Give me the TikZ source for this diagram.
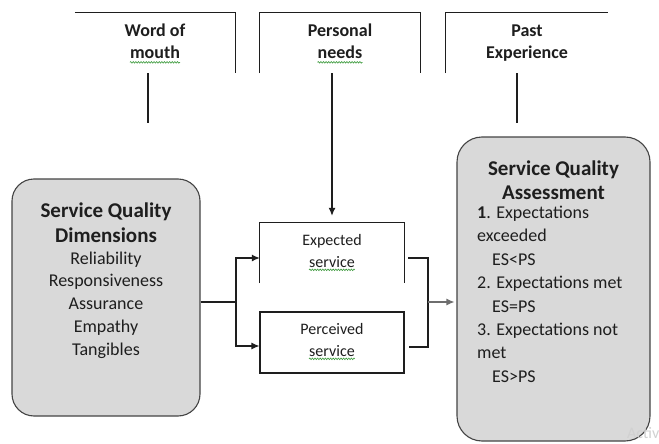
\documentclass[tikz,border=0pt]{standalone}
\usepackage{fontspec}
\setmainfont{Carlito}
\usetikzlibrary{arrows.meta,decorations.pathmorphing}
\definecolor{boxfill}{HTML}{D9D9D9}
\definecolor{boxedge}{HTML}{444444}
\definecolor{ink}{HTML}{1E1E1E}
\definecolor{soft}{HTML}{6E6E6E}
\definecolor{spell}{HTML}{3C9A3C}
\begin{document}
\begin{tikzpicture}[x=1pt,y=-1pt,
  every node/.style={inner sep=0pt, text=ink},
  line/.style={draw=ink, line width=1.1pt},
  flow/.style={line, -{Latex[length=8pt,width=7pt]}},
  panel/.style={draw=boxedge, fill=boxfill, line width=1.1pt, rounded corners=22pt},
  frame/.style={minimum width=160pt, minimum height=60pt},
  svcbox/.style={minimum width=144pt},
  head/.style={font=\fontsize{21}{25}\selectfont\bfseries, anchor=base},
  body/.style={font=\fontsize{18}{22}\selectfont, anchor=base},
  bodyl/.style={font=\fontsize{18}{22}\selectfont, anchor=base west},
  toplabel/.style={font=\fontsize{18}{22}\selectfont\bfseries, anchor=base},
  svc/.style={font=\fontsize{16}{20}\selectfont, anchor=base},
  squiggle/.style={draw=spell, line width=0.6pt, decorate,
    decoration={snake, amplitude=0.8pt, segment length=2.6pt}},
]
\useasboundingbox (0,0) rectangle (659,444);
\fill[white] (0,0) rectangle (659,444);

% ---- influences along the top (open frames) ----
\node[frame] (wom) at (155,43) {};
\node[frame] (pn)  at (340,43) {};
\node[frame, minimum width=162pt] (pe) at (527,43) {};
\draw[line] (wom.north west) -- (wom.north east) -- (wom.south east);
\draw[line] (pn.south west) -- (pn.north west) -- (pn.north east) -- (pn.south east);
\draw[line] (pe.south west) -- (pe.north west) -- (pe.north east);

\node[toplabel] (womA) at (155,37) {Word of};
\node[toplabel] (womB) at (155,59) {mouth};
\node[toplabel] (pnA) at (340,37) {Personal};
\node[toplabel] (pnB) at (340,59) {needs};
\node[toplabel] (peA) at (527,37) {Past};
\node[toplabel] (peB) at (527,59) {Experience};
\draw[squiggle] ([yshift=-3pt]womB.south west) -- ([yshift=-3pt]womB.south east);
\draw[squiggle] ([yshift=-3pt]pnB.south west) -- ([yshift=-3pt]pnB.south east);

% ---- the two grey panels ----
\node[panel, minimum width=188pt, minimum height=237pt] (dims) at (106,297.5) {};
\node[panel, rounded corners=25pt, minimum width=193pt, minimum height=304pt] (assess) at (553.5,289) {};

\node[head] (d1) at (106,217) {Service Quality};
\node[head] (d2) at (106,242) {Dimensions};
\node[body] (d3) at (106,264) {Reliability};
\node[body] (d4) at (106,286.75) {Responsiveness};
\node[body] (d5) at (106,309.5) {Assurance};
\node[body] (d6) at (106,332.25) {Empathy};
\node[body] (d7) at (106,355) {Tangibles};

\node[head] (a1) at (553.5,175) {Service Quality};
\node[head] (a2) at (553.5,199) {Assessment};
\node[bodyl] (a3) at (477,218.5) {\textbf{1}. Expectations};
\node[bodyl] (a4) at (477,241.9) {exceeded};
\node[bodyl] (a5) at (492,265.3) {ES<PS};
\node[bodyl] (a6) at (477,288.7) {2. Expectations met};
\node[bodyl] (a7) at (492,312.1) {ES=PS};
\node[bodyl] (a8) at (477,335.5) {3. Expectations not};
\node[bodyl] (a9) at (477,358.9) {met};
\node[bodyl] (a10) at (492,382.3) {ES>PS};

% ---- expected / perceived service ----
\node[svcbox, minimum height=60pt] (exp) at (332,253) {};
\draw[line] (exp.south west) -- (exp.north west) -- (exp.north east) -- (exp.south east);
\node[svcbox, minimum height=61pt, draw=ink, line width=1.1pt] (per) at (332,342.5) {};

\node[svc] (e1) at (332,245) {Expected};
\node[svc] (e2) at (332,267) {service};
\node[svc] (p1) at (332,334) {Perceived};
\node[svc] (p2) at (332,356) {service};
\draw[squiggle] ([yshift=-2.5pt]e2.south west) -- ([yshift=-2.5pt]e2.south east);
\draw[squiggle] ([yshift=-2.5pt]p2.south west) -- ([yshift=-2.5pt]p2.south east);

% ---- connectors ----
\coordinate (womfoot) at (148,123);
\coordinate (pefoot) at (517,123);
\draw[line] (wom.south -| womfoot) -- (womfoot);
\draw[line] (pe.south -| pefoot) -- (pefoot);
\draw[flow, shorten >=7pt] (pn.south -| exp.north) -- (exp.north);

\coordinate (split) at (236,302);
\draw[line] (dims.east |- split) -- (split);
\draw[flow] (split) |- ([yshift=-5pt]exp.west);
\draw[flow] (split) |- ([yshift=-3.5pt]per.west);

\coordinate (merge) at (428,302);
\draw[line] ([xshift=4pt,yshift=-5pt]exp.east) -| (merge);
\draw[line] (merge) |- ([xshift=4pt,yshift=-4.5pt]per.east);
\draw[flow, draw=soft] (merge) -- ([xshift=-2pt]assess.west |- merge);

% ---- faint text at the lower right corner ----
\node[font=\fontsize{16}{16}\selectfont, text=black!18, anchor=base west] (wm) at (627,438) {Activ};
\end{tikzpicture}
\end{document}
